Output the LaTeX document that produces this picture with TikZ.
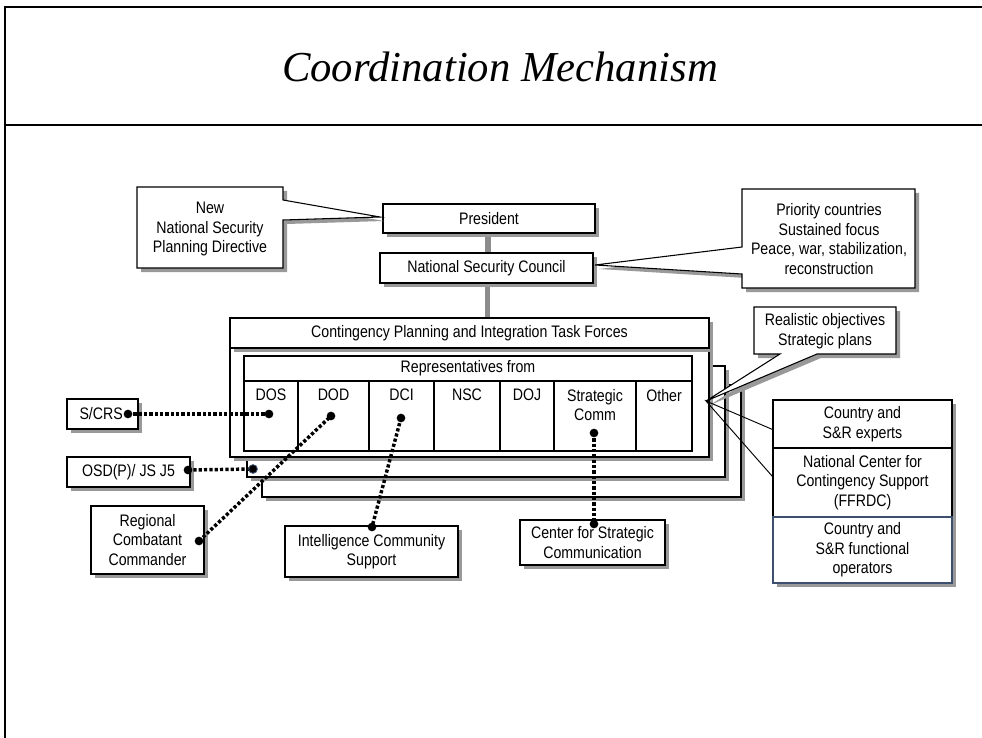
\documentclass[tikz,border=0pt]{standalone}
\usepackage{fontspec}
\setmainfont{Liberation Sans}[FakeStretch=0.85]
\newfontfamily\titlefont{Liberation Serif}
\usetikzlibrary{shadows}
\definecolor{shd}{gray}{0.6}
\definecolor{bluegrey}{RGB}{60,80,110}
\newcommand\bx[7][]{\node[bx,#1,minimum width={(#5-#3)*0.75pt},minimum height={(#6-#4)*0.75pt}] (#2) at ({(#3+#5)/2},{(#4+#6)/2}) {#7};}
\begin{document}
\begin{tikzpicture}[x=0.75pt,y=-0.75pt,
  every node/.style={font=\fontsize{12.5}{14.6}\selectfont, align=center, inner sep=0pt},
  shadowed/.style={drop shadow={shadow xshift=3pt, shadow yshift=-3pt, fill=shd, opacity=1}},
  bx/.style={draw, fill=white, line width=0.8pt, shadowed},
  cell/.style={draw, fill=white, line width=0.8pt},
  frameline/.style={line width=1.6pt, black},
  grayconn/.style={line width=3.8pt, draw=black!45},
  dotline/.style={line width=2.6pt, dash pattern=on 2.4pt off 1.6pt},
  dotend/.style={circle, fill=black, minimum size=6.5pt, inner sep=0pt},
  thin/.style={line width=0.7pt}]
\useasboundingbox (0,0) rectangle (982,738);
% frame
\coordinate (ftl) at (5,7);
\coordinate (ftr) at (982,7);
\coordinate (fbl) at (5,738);
\coordinate (fsl) at (5,125);
\coordinate (fsr) at (982,125);
\draw[frameline] (fbl) -- (ftl) -- (ftr);
\draw[frameline] (fsl) -- (fsr);
\node[font=\titlefont\itshape\fontsize{32}{34}\selectfont] (title) at (500,67) {Coordination Mechanism};

% stacked task-force boxes
\bx{stack3}{262}{385}{741}{497}{}
\bx{stack2}{247}{366}{725}{477}{}
\bx{tfbody}{230}{348}{709}{457}{}
\bx{tfhead}{230}{318}{709}{348}{Contingency Planning and Integration Task Forces}

% inner table
\node[cell, minimum width={448*0.75pt}, minimum height={25*0.75pt}] (rep) at (468,368.5) {Representatives from};
\node[cell, minimum width={54*0.75pt}, minimum height={70*0.75pt}] (cDOS) at (271,416) {};
\node[cell, minimum width={71*0.75pt}, minimum height={70*0.75pt}] (cDOD) at (333.5,416) {};
\node[cell, minimum width={65*0.75pt}, minimum height={70*0.75pt}] (cDCI) at (401.5,416) {};
\node[cell, minimum width={66*0.75pt}, minimum height={70*0.75pt}] (cNSC) at (467,416) {};
\node[cell, minimum width={54*0.75pt}, minimum height={70*0.75pt}] (cDOJ) at (527,416) {};
\node[cell, minimum width={82*0.75pt}, minimum height={70*0.75pt}] (cSC) at (595,416) {};
\node[cell, minimum width={56*0.75pt}, minimum height={70*0.75pt}] (cOth) at (664,416) {};
\node[anchor=north] (tDOS) at (271,389) {DOS};
\node[anchor=north] (tDOD) at (333.5,389) {DOD};
\node[anchor=north] (tDCI) at (401.5,389) {DCI};
\node[anchor=north] (tNSC) at (467,389) {NSC};
\node[anchor=north] (tDOJ) at (527,389) {DOJ};
\node[anchor=north] (tSC) at (595,389) {Strategic\\Comm};
\node[anchor=north] (tOth) at (664,389) {Other};

% president / NSC
\bx{pres}{383}{204}{595}{233}{President}
\bx{nsc}{380}{253}{593}{283}{National Security Council}
\draw[grayconn] ([xshift=-0.75pt]pres.south) -- ([xshift=-0.75pt]pres.south |- nsc.north);
\draw[grayconn] ([xshift=0.75pt]nsc.south) -- ([xshift=0.75pt]nsc.south |- tfhead.north);
\bx{pres}{383}{204}{595}{233}{President}
\bx{nsc}{380}{253}{593}{283}{National Security Council}

% callouts
\draw[bx] (137,187) -- (283,187) -- (283,200) -- (380,217) -- (283,220) -- (283,268) -- (137,268) -- cycle;
\node (nnspd) at (210,229) {New\\National Security\\Planning Directive};
\draw[bx] (742,189) -- (915,189) -- (915,288) -- (742,288) -- (742,274) -- (595,265) -- (742,247) -- cycle;
\node (prio) at (829,239) {Priority countries\\Sustained focus\\Peace, war, stabilization,\\reconstruction};
\draw[bx] (754,307) -- (896,307) -- (896,354) -- (817,354) -- (706,401) -- (780,354) -- (754,354) -- cycle;
\node (real) at (825,331) {Realistic objectives\\Strategic plans};

% right stack
\coordinate (apex) at (706,401);
\node[bx, draw=none, minimum width={179*0.75pt}, minimum height={183*0.75pt}] (rbox) at (862.5,491.5) {};
\node[cell, minimum width={179*0.75pt}, minimum height={48*0.75pt}] (rb1) at (862.5,424) {Country and\\S\&R experts};
\node[cell, minimum width={179*0.75pt}, minimum height={69*0.75pt}] (rb2) at (862.5,482.5) {National Center for\\Contingency Support\\(FFRDC)};
\node[cell, draw=bluegrey, minimum width={179*0.75pt}, minimum height={66*0.75pt}] (rb3) at (862.5,550) {Country and\\S\&R functional\\operators};
\draw[thin] ([yshift=-22.5pt]rbox.north west) -- (apex) -- ([yshift=-57.75pt]rbox.north west);

% side boxes
\bx{scrs}{67}{399}{138}{429}{S/CRS\hspace{2pt}}
\bx{osd}{67}{457}{190}{487}{OSD(P)/ JS J5}
\bx{rcc}{91}{506}{204}{574}{Regional\\Combatant\\Commander}
\bx{ics}{285}{526}{458}{577}{Intelligence Community\\Support}
\bx{csc}{520}{520}{665}{565}{Center for Strategic\\Communication}

% dotted links
\coordinate (pS) at (128,414);
\coordinate (pDOS) at (269,414);
\coordinate (pOSD) at (188,470);
\coordinate (pStack) at (253,469);
\coordinate (pRCC) at (199,541);
\coordinate (pDOD) at (331,416);
\coordinate (pDCI) at (401,418);
\coordinate (pICS) at (372,527);
\coordinate (pSC) at (594,433);
\coordinate (pCSC) at (594,524);
\draw[dotline] (pS) -- (pDOS);
\draw[dotline] (pOSD) -- (pStack);
\draw[dotline] (pRCC) -- (pDOD);
\draw[dotline] (pDCI) -- (pICS);
\draw[dotline] (pSC) -- (pCSC);
\foreach \p in {pS,pDOS,pOSD,pRCC,pDOD,pDCI,pICS,pSC,pCSC}
  \node[dotend] at (\p) {};
\node[dotend, draw=bluegrey, line width=0.6pt] at (pStack) {};
\end{tikzpicture}
\end{document}
